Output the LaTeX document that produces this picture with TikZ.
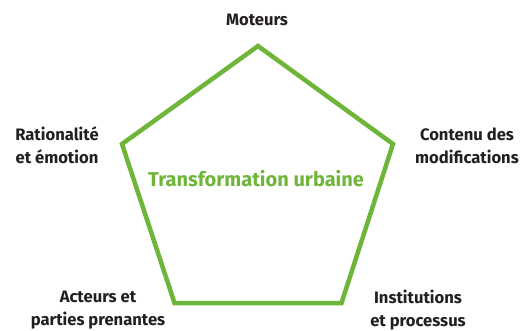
\documentclass[tikz,border=0pt]{standalone}
\usepackage{fontspec}
\setmainfont{Fira Sans}
\definecolor{pgreen}{RGB}{110,181,58}
\definecolor{ptext}{RGB}{35,31,32}
\begin{document}
\begin{tikzpicture}[x=1pt,y=-1pt,
  lbl/.style={font=\bfseries\fontsize{16.6}{23}\selectfont, text=ptext, align=center, inner sep=0pt},
  title/.style={font=\bfseries\fontsize{20}{22}\selectfont, text=pgreen, inner sep=0pt}]
\useasboundingbox (0,0) rectangle (527,330);
\draw[pgreen, line width=4.5pt, line join=miter]
  (258,46) coordinate (p1) -- (393,144) coordinate (p2) -- (341.5,303) coordinate (p3)
  -- (174.5,303) coordinate (p4) -- (122,144) coordinate (p5) -- cycle;
\node[lbl] (mot) at (257,20) {Moteurs};
\node[lbl] (con) at (467,146) {Contenu des\\modifications};
\node[lbl] (rat) at (57,145) {Rationalité\\et émotion};
\node[lbl] (act) at (98,310) {Acteurs et\\parties prenantes};
\node[lbl] (ins) at (418,310) {Institutions\\et processus};
\node[title] (tu) at (256,179) {Transformation urbaine};
\end{tikzpicture}
\end{document}
